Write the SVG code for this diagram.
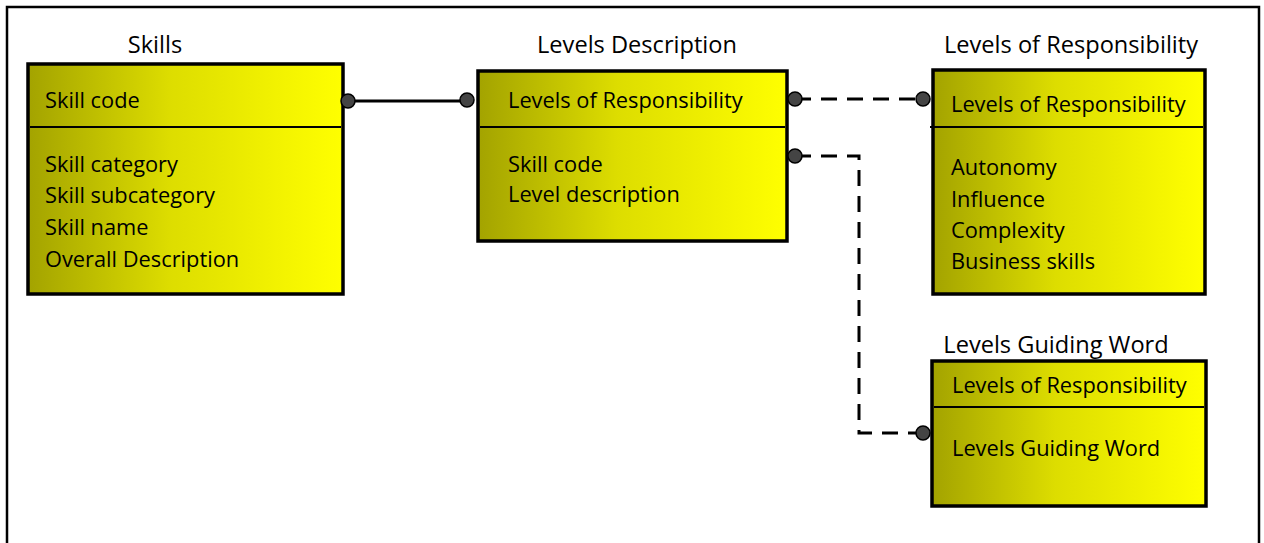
<svg xmlns="http://www.w3.org/2000/svg" width="1264" height="543" viewBox="0 0 1264 543">
  <defs>
    <linearGradient id="fill" x1="0" y1="0" x2="1" y2="0">
      <stop offset="0" stop-color="#a3a300"/>
      <stop offset="0.45" stop-color="#dddd00"/>
      <stop offset="1" stop-color="#ffff00"/>
    </linearGradient>
  </defs>
  <style>
    text { font-family: "Open Sans", "Liberation Sans", sans-serif; font-size: 21.8px; fill: #000; }
    .title { font-size: 23.6px; }
    .box { fill: url(#fill); stroke: #000; stroke-width: 3.5; }
    .div { stroke: #000; stroke-width: 2; }
    .solid { fill: none; stroke: #000; stroke-width: 3; }
    .dash { fill: none; stroke: #000; stroke-width: 3; stroke-dasharray: 16 10; }
    .end { fill: #444; stroke: #000; stroke-width: 1.5; }
  </style>
  <rect width="1264" height="543" fill="#fff"/>
  <!-- outer frame -->
  <path d="M7,543 V7 H1259 V543" fill="none" stroke="#000" stroke-width="2.5"/>

  <g id="connectors">
    <line class="solid" x1="348" y1="101" x2="467" y2="101"/>
    <line class="dash" x1="795" y1="99" x2="923" y2="99"/>
    <polyline class="dash" points="795,156 859,156 859,433 923,433"/>
  </g>

  <g id="skills">
    <text class="title" x="155" y="53" text-anchor="middle">Skills</text>
    <rect class="box" x="28" y="64" width="315" height="230"/>
    <line class="div" x1="30" y1="127" x2="341" y2="127"/>
    <text x="45" y="108">Skill code</text>
    <text x="45" y="172">Skill category</text>
    <text x="45" y="203">Skill subcategory</text>
    <text x="45" y="235">Skill name</text>
    <text x="45" y="267">Overall Description</text>
    <circle class="end" cx="348" cy="101" r="7"/>
  </g>

  <g id="levels-description">
    <text class="title" x="637" y="53" text-anchor="middle">Levels Description</text>
    <rect class="box" x="478" y="71" width="309" height="170"/>
    <line class="div" x1="480" y1="127" x2="785" y2="127"/>
    <text x="508" y="108">Levels of Responsibility</text>
    <text x="508" y="172">Skill code</text>
    <text x="508" y="202">Level description</text>
    <circle class="end" cx="467" cy="100" r="7"/>
    <circle class="end" cx="795" cy="99" r="7"/>
    <circle class="end" cx="795" cy="156" r="7"/>
  </g>

  <g id="levels-of-responsibility">
    <text class="title" x="1071" y="53" text-anchor="middle">Levels of Responsibility</text>
    <rect class="box" x="933" y="70" width="272" height="224"/>
    <line class="div" x1="930" y1="127" x2="1203" y2="127"/>
    <text x="951" y="112">Levels of Responsibility</text>
    <text x="951" y="175">Autonomy</text>
    <text x="951" y="207">Influence</text>
    <text x="951" y="238">Complexity</text>
    <text x="951" y="269">Business skills</text>
    <circle class="end" cx="923" cy="99" r="7"/>
  </g>

  <g id="levels-guiding-word">
    <text class="title" x="1056" y="353" text-anchor="middle">Levels Guiding Word</text>
    <rect class="box" x="932" y="361" width="274" height="145"/>
    <line class="div" x1="934" y1="407" x2="1204" y2="407"/>
    <text x="952" y="393">Levels of Responsibility</text>
    <text x="952" y="456">Levels Guiding Word</text>
    <circle class="end" cx="923" cy="433" r="7"/>
  </g>
</svg>
